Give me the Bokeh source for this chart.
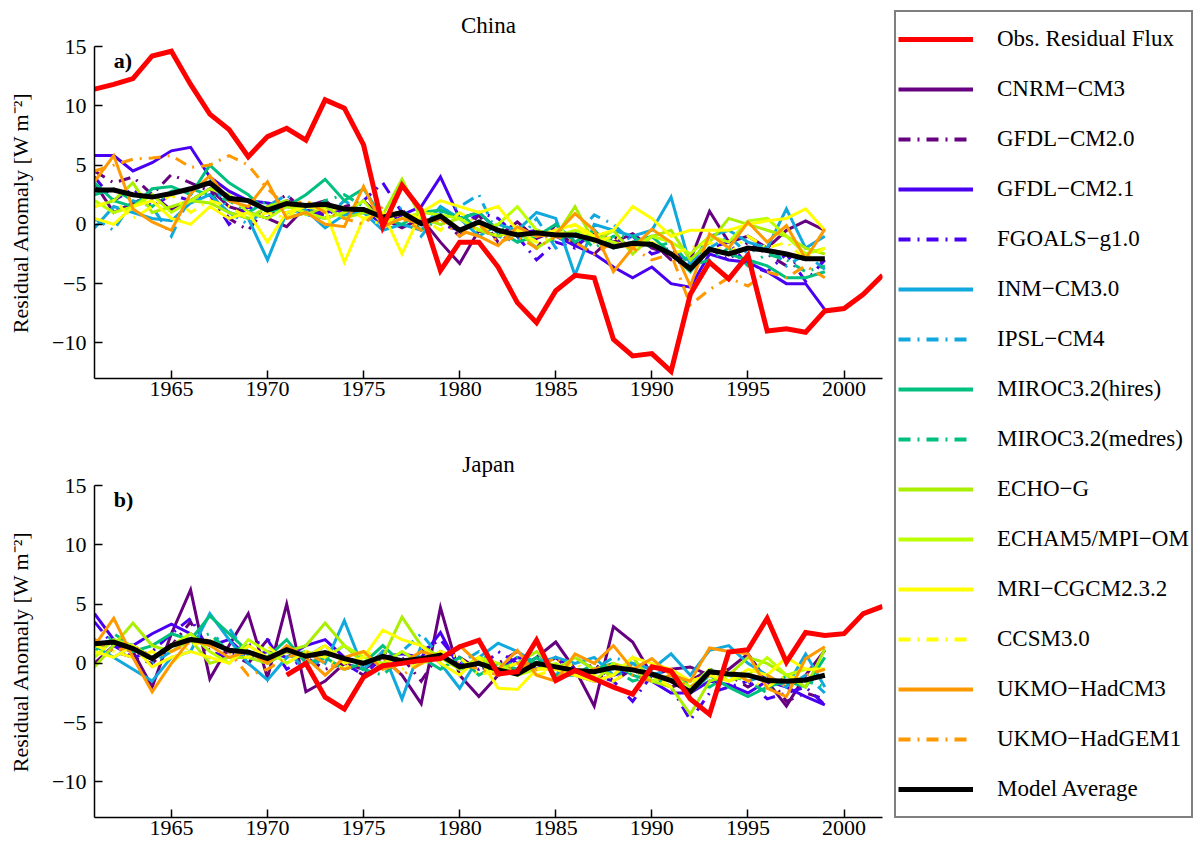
from bokeh.plotting import figure
from bokeh.layouts import row, column
from bokeh.models import FixedTicker, Range1d, Legend, LegendItem, Label
from bokeh.core.properties import value
from bokeh.embed import file_html
from bokeh.resources import INLINE

FONT = "Liberation Serif"

years_model = list(range(1961, 2000))
years_obs_china = list(range(1961, 2003))
years_obs_japan = list(range(1971, 2003))
x_ticks = [1965, 1970, 1975, 1980, 1985, 1990, 1995, 2000]
y_ticks = [-10, -5, 0, 5, 10, 15]

# ---------------- China ----------------
obs_china = [11.4, 11.8, 12.3, 14.2, 14.6, 11.8, 9.3, 8.0, 5.7, 7.4,
             8.1, 7.1, 10.5, 9.8, 6.7, -0.2, 3.3, 1.2, -3.9, -1.5,
             -1.5, -3.6, -6.6, -8.3, -5.6, -4.3, -4.5, -9.7, -11.1, -10.9,
             -12.4, -5.9, -3.2, -4.6, -2.6, -9.0, -8.8, -9.1, -7.3, -7.1,
             -5.9, -4.3]
avg_china = [2.9, 2.9, 2.5, 2.3, 2.6, 3.0, 3.5, 2.2, 2.0, 1.2,
             1.75, 1.6, 1.7, 1.3, 1.25, 0.6, 1.0, 0.05, 0.7, -0.5,
             0.2, -0.5, -0.9, -0.7, -0.9, -0.9, -1.3, -1.9, -1.6, -1.7,
             -2.5, -3.75, -2.1, -2.5, -2.0, -2.2, -2.5, -2.9, -2.9]
cnrm_china = [3.5, 1.0, 1.8, 2.5, 1.2, 2.0, 3.0, 1.5, 1.0, 0.5,
              -0.2, 1.5, 2.0, 0.8, 1.2, 0.5, -0.3, 0.5, -1.5, -3.3,
              -0.5, -1.0, 0.2, -1.2, -0.5, -1.8, -0.8, -1.5, -0.8, -2.0,
              -2.5, -3.0, 1.1, -1.5, -1.0, -2.0, -0.5, 0.3, -0.5]
gfdl20_china = [4.5, 3.5, 4.0, 2.5, 4.2, 3.5, 2.8, 0.5, -0.5, 1.5,
                2.5, 1.0, 0.8, 1.5, 2.0, 0.5, 1.2, -0.2, 0.5, -1.0,
                0.8, -1.5, -0.5, -2.0, 0.0, -1.5, -2.5, -1.0, -2.0, -1.5,
                -3.0, -3.5, -2.0, -3.0, -1.5, -2.5, -3.5, -2.8, -3.2]
gfdl21_china = [5.8, 5.8, 4.5, 5.2, 6.2, 6.5, 4.0, 2.8, 2.0, 1.8,
                1.5, 1.2, 1.0, 1.3, 1.2, 0.0, 0.8, 1.5, 4.0, 0.5,
                1.0, -0.5, -0.8, -0.5, -1.0, -1.8, -2.5, -3.6, -4.5, -3.6,
                -5.0, -5.3, -2.5, -3.0, -3.2, -4.0, -5.0, -5.0, -7.2]
fgoals_china = [4.0, 2.0, 3.0, 1.5, 2.5, 2.0, 2.5, 0.0, 1.5, 0.5,
                2.0, 1.5, 0.5, 1.0, 2.0, 3.5, 1.0, 0.5, 0.0, -0.5,
                1.0, 0.5, -1.0, -3.0, -1.5, -2.0, -0.5, -1.5, -1.0, -2.5,
                -2.0, -3.5, -2.0, -1.5, -3.5, -4.0, -2.5, -4.8, -3.0]
inm_china = [-0.3, 1.5, 1.0, 0.5, 0.3, 1.8, 2.5, 1.0, 0.5, -3.0,
             1.0, 1.2, -0.3, 0.8, 1.0, -0.5, 0.0, -0.5, 1.5, 0.5,
             -1.0, 0.0, -0.5, 1.0, 0.5, -4.3, 0.0, -0.5, -1.0, -0.5,
             2.3, -3.5, -1.0, -0.5, -1.5, -2.0, 1.3, -2.0, -1.0]
ipsl_china = [0.5, -0.5, 2.0, 1.5, -1.0, 2.5, 4.0, 1.0, 0.0, 1.5,
              2.5, 0.8, 0.5, 2.0, 1.0, 0.0, 1.5, -1.0, 1.0, 1.5,
              2.5, -1.0, -1.5, 0.5, -2.0, -1.0, 0.8, 0.0, -1.5, -1.0,
              -2.5, -3.0, -2.0, -1.0, -2.5, -1.5, -3.5, -2.5, -3.8]
mirochi_china = [3.5, 2.0, 1.5, 3.0, 3.2, 2.5, 5.0, 3.5, 2.5, 1.0,
                 1.5, 2.5, 3.8, 2.0, 3.0, 0.5, 0.0, 1.0, 1.2, 0.5,
                 1.0, -0.5, -1.5, -1.0, 0.0, -1.5, -0.5, -2.0, -1.5, -1.0,
                 -2.5, -4.0, -2.0, -2.5, -3.0, -3.5, -4.5, -4.5, -4.0]
mirocmed_china = [2.5, 3.0, 2.0, 1.5, 2.8, 3.0, 2.5, 2.0, 1.0, 2.0,
                  0.5, 1.0, 2.0, 2.5, 1.5, 0.5, 1.0, -0.5, 0.5, 1.0,
                  -0.5, 0.0, -1.0, -0.5, -1.5, -0.5, -2.0, -1.0, -1.0, -2.0,
                  -1.5, -3.5, -3.0, -2.0, -3.5, -2.5, -3.0, -4.0, -3.5]
echog_china = [1.5, 2.0, 3.5, 1.0, 1.5, 2.0, 1.8, 1.0, 0.5, 1.5,
               2.0, 0.8, 1.5, 0.5, 1.0, 0.8, 3.8, 0.5, 0.0, 0.5,
               -0.5, -1.0, -0.5, -2.0, -1.0, 1.5, -1.5, -0.5, -2.5, -1.0,
               -0.5, -3.0, -1.5, 0.5, 0.0, -0.5, -1.0, -2.0, -2.5]
echam5_china = [2.0, 1.0, 1.5, 2.5, 1.0, 2.0, 3.0, 2.5, 1.0, 0.5,
                1.5, 1.0, 0.5, 1.0, 2.0, 0.0, 0.5, 1.0, 0.8, 0.5,
                -0.5, 0.0, 1.5, -0.5, -1.0, -0.5, -1.0, -1.5, -2.0, -1.0,
                -1.5, -2.5, -1.0, -1.5, 0.3, 0.5, -1.0, -2.5, -2.0]
mri_china = [0.5, 0.0, 1.5, 2.0, 0.5, 0.0, 1.5, 0.5, 1.0, -1.5,
             1.0, 1.5, 1.2, -3.2, 0.5, 1.0, -2.5, 1.0, 2.0, 1.5,
             1.0, 1.5, -0.5, -1.0, -0.5, 0.0, -1.0, -0.5, 1.5, 0.5,
             -1.0, -0.5, -0.5, -0.5, 0.0, 0.3, 0.5, 1.3, -0.5]
ccsm_china = [1.5, 2.0, 0.5, 1.5, 2.5, 1.0, 2.0, 1.5, 0.5, 1.0,
              0.5, 2.0, 1.0, 1.5, 0.5, 0.0, 1.0, 0.5, -0.5, 1.0,
              0.0, -1.0, -0.5, -1.5, -1.0, 0.0, -1.5, -1.0, -2.0, -1.5,
              -2.5, -2.0, -1.5, -2.5, -1.0, -2.0, -1.5, -3.0, -2.0]
hadcm3_china = [3.6, 5.8, 1.3, 0.2, -0.5, 2.6, 4.1, 2.0, 1.5, 3.6,
                0.5, 1.0, 0.0, -0.2, 3.2, -0.2, 0.5, 0.0, 0.5, -0.5,
                -1.0, -1.8, -0.2, -1.0, -0.8, 0.9, -0.5, -4.0, -2.0, -0.4,
                -1.5, -5.2, -0.8, -2.0, 0.2, -1.5, -0.1, -2.9, -0.4]
hadgem1_china = [4.5, 5.0, 5.5, 5.6, 5.8, 4.8, 5.0, 5.8, 5.0, 3.0,
                 1.5, 2.0, 1.0, 0.5, 0.0, 1.5, 0.5, -0.5, 0.5, -1.0,
                 0.0, -1.5, -1.0, -2.0, -1.0, -1.5, -2.5, -1.5, -2.0, -3.0,
                 -2.5, -6.8, -5.5, -4.5, -5.2, -4.0, -4.5, -3.5, -4.5]

# ---------------- Japan ----------------
obs_japan = [-1.0, 0.0, -2.85, -3.85, -1.15, -0.2, 0.0, 0.25, 0.4, 1.4,
             1.95, -0.9, -0.7, 1.95, -1.45, -0.6, -1.3, -2.0, -2.6, -0.3,
             -0.65, -3.0, -4.3, 0.95, 1.15, 3.8, 0.1, 2.6, 2.35, 2.5,
             4.2, 4.8]
avg_japan = [1.65, 1.8, 1.25, 0.4, 1.5, 2.0, 1.8, 1.1, 0.95, 0.4,
             1.15, 0.6, 0.9, 0.4, 0.0, 0.6, 0.2, 0.4, 0.7, -0.3,
             0.0, -0.55, -0.9, 0.0, -0.3, -0.6, -0.7, -0.35, -0.55, -0.9,
             -1.45, -2.4, -0.7, -0.9, -1.0, -1.45, -1.5, -1.4, -1.0]
cnrm_japan = [0.0, 1.5, 1.0, -2.0, 2.5, 6.2, -1.3, 1.5, 4.2, -1.2,
              5.0, -2.4, -1.5, 0.0, -0.5, 0.5, -1.0, -3.4, 4.7, -1.0,
              -2.8, -1.0, -0.5, 0.5, 1.8, -0.5, -3.6, 3.1, 1.8, -1.0,
              -0.5, -0.3, -1.0, -0.5, 0.8, -1.5, -3.6, -1.0, 1.1]
gfdl20_japan = [2.0, 1.0, 0.5, 0.0, 1.5, 3.5, 0.5, 1.0, 0.0, 2.0,
                1.0, 0.5, -0.5, 0.0, -1.0, 1.0, 0.5, -1.5, 1.0, 0.5,
                -0.5, 0.0, 1.0, -0.5, 0.5, -1.0, 0.0, -1.5, -0.5, -1.0,
                -2.0, -1.5, -0.5, -1.0, -2.0, -1.0, -3.2, -2.5, -3.0]
gfdl21_japan = [4.2, 2.0, 1.5, 2.5, 3.3, 2.5, 1.5, 2.0, 0.5, 1.0,
                0.5, 1.5, 2.0, 0.5, 0.0, 0.5, 0.8, 0.5, 2.6, -0.5,
                0.0, -0.5, 0.5, 0.0, -0.5, -1.0, -1.5, -1.0, -0.5, -1.5,
                -2.5, -2.5, -1.5, -1.8, -2.5, -1.5, -2.0, -2.8, -3.5]
fgoals_japan = [3.5, 1.5, 0.5, 1.0, 2.5, 3.8, 1.0, 0.5, 1.5, 2.0,
                -0.5, 0.5, 1.5, 0.0, -1.0, 0.5, 0.0, 1.0, 2.0, 0.0,
                -0.5, 1.0, 0.0, -0.5, 0.5, -0.5, -1.0, -1.5, -3.2, -1.0,
                -2.0, -4.8, -2.5, -2.0, -1.5, -3.0, -2.5, -2.0, -3.5]
inm_japan = [1.5, 0.5, -0.5, -1.5, 0.5, 1.0, 4.2, 2.0, 0.0, -1.4,
             0.5, 1.0, 0.0, 3.6, -0.5, 1.0, -3.0, 1.5, 0.0, -2.1,
             0.5, 1.7, 1.0, 0.0, 0.5, 0.0, 0.5, -1.0, 0.0, -0.5,
             0.8, -1.0, 1.1, 1.5, 0.0, -1.0, -2.0, 0.8, -2.0]
ipsl_japan = [2.0, 0.5, 1.5, 0.0, 1.0, 2.0, 1.5, 3.0, 0.5, 0.0,
              1.0, -0.5, 0.5, 1.5, 0.0, -0.5, 1.0, 2.5, 0.5, 0.0,
              1.0, -0.5, 0.0, 1.0, -1.0, 0.5, -0.5, 0.5, 0.0, -1.0,
              -0.5, -2.0, -0.5, -1.0, -1.5, -1.0, -2.0, -1.0, -2.5]
mirochi_japan = [1.5, 2.0, 1.0, 1.5, 2.5, 2.0, 4.0, 2.5, 1.0, 0.5,
                 2.0, 0.0, 0.5, -0.5, 0.0, 1.5, 0.0, 0.5, -0.5, 0.5,
                 -1.0, 0.0, -0.5, 0.5, -1.0, -1.0, -0.5, 0.0, -1.0, -1.5,
                 -1.0, -2.5, -1.0, -2.0, -2.8, -2.0, -1.5, -2.0, 0.5]
mirocmed_japan = [1.0, 2.5, 1.5, 0.5, 1.5, 2.0, 2.5, 1.0, 1.5, 0.5,
                  1.0, 0.5, 1.5, 0.0, -0.5, -1.0, 0.5, 0.0, 1.0, -0.5,
                  0.0, -1.0, 0.5, 0.0, -0.5, -1.0, 0.0, -0.5, -1.5, -1.0,
                  -2.0, -1.5, -2.0, -1.0, -1.5, -2.5, -1.0, -1.5, -2.0]
echog_japan = [-0.3, 1.5, 3.4, 1.5, 1.0, 2.0, 0.0, 0.5, 0.5, 0.0,
               1.0, 1.5, 3.4, 1.5, 0.0, 0.5, 3.9, 1.5, 0.5, -0.5,
               0.5, -0.5, 0.0, 1.0, -0.5, 0.5, -0.5, -1.0, 0.5, -1.5,
               -2.0, -4.3, -1.5, -1.0, 0.5, 0.0, -1.0, -2.0, 1.2]
echam5_japan = [0.5, 2.0, 1.5, 0.5, 1.5, 2.5, 1.0, 0.0, 2.0, 1.0,
                0.0, 1.0, 0.5, 1.5, 0.5, 0.0, 1.0, 0.0, 0.5, -0.5,
                0.5, 0.0, -1.0, -0.5, 0.0, -1.0, -1.5, 0.0, -0.5, -1.5,
                -1.0, -2.0, -0.5, -1.5, -1.0, 0.5, -1.0, -0.5, -0.5]
mri_japan = [1.0, 0.5, 1.5, -0.3, 0.5, 1.0, 0.5, 0.0, 1.5, 0.5,
             1.0, 0.5, 1.5, 0.0, 0.5, 2.8, 2.0, 1.5, 0.0, -1.0,
             0.5, -2.1, -2.2, -0.5, -0.5, -1.0, -1.5, -1.0, 0.5, 0.0,
             -0.5, -1.5, -1.0, -1.5, -0.5, -1.0, 0.5, -0.5, -0.5]
ccsm_japan = [1.5, 1.0, 0.5, 1.0, 0.0, 1.5, 2.0, 1.0, 0.5, 1.5,
              0.0, 1.0, 0.5, -0.5, 1.0, 0.5, -0.5, 0.0, 1.0, 0.5,
              -1.0, -0.5, 0.0, -1.0, -0.5, 0.0, -1.0, -1.5, -0.5, -1.0,
              -2.0, -1.5, -1.0, -0.5, -1.5, -2.0, -1.0, -1.5, -1.0]
hadcm3_japan = [1.5, 3.8, 0.5, -2.4, 0.0, 2.0, 1.5, 0.5, 1.0, 0.0,
                1.5, 0.5, -1.0, 0.5, 1.0, -0.5, 0.0, 1.0, 0.5, 1.5,
                0.0, -0.5, 1.1, -1.0, -1.5, 0.8, 0.0, 1.5, -0.5, 0.4,
                -1.0, -1.5, 1.3, 1.0, 0.8, -2.1, -2.8, 0.4, 1.4]
hadgem1_japan = [2.0, 1.0, 1.5, 0.5, 1.0, 1.8, 2.0, 1.0, -1.0, -0.5,
                 0.5, 1.0, 0.0, -0.5, 0.0, 0.5, -1.0, 0.0, 0.5, 0.0,
                 -0.5, -1.0, 0.0, -0.5, 0.5, -1.0, -0.5, 0.0, -1.0, -1.5,
                 -1.0, -2.0, -1.0, -0.5, -1.5, -1.0, -2.0, -1.0, -0.5]

model_names = ["CNRM\u2212CM3", "GFDL\u2212CM2.0", "GFDL\u2212CM2.1", "FGOALS\u2212g1.0",
               "INM\u2212CM3.0", "IPSL\u2212CM4", "MIROC3.2(hires)", "MIROC3.2(medres)",
               "ECHO\u2212G", "ECHAM5/MPI\u2212OM", "MRI\u2212CGCM2.3.2", "CCSM3.0",
               "UKMO\u2212HadCM3", "UKMO\u2212HadGEM1"]
model_colors = ["#660080", "#660080", "#4a00f0", "#4a00f0",
                "#10a8dd", "#10a8dd", "#00c080", "#00c080",
                "#aaee00", "#bbff00", "#ffff00", "#ffff00",
                "#ff9900", "#ff9900"]
DASHDOT = "12 7 2 7"
model_dashes = ["solid", DASHDOT, "solid", DASHDOT,
                "solid", DASHDOT, "solid", DASHDOT,
                "solid", "solid", "solid", DASHDOT,
                "solid", DASHDOT]
china_models = [cnrm_china, gfdl20_china, gfdl21_china, fgoals_china, inm_china,
                ipsl_china, mirochi_china, mirocmed_china, echog_china, echam5_china,
                mri_china, ccsm_china, hadcm3_china, hadgem1_china]
japan_models = [cnrm_japan, gfdl20_japan, gfdl21_japan, fgoals_japan, inm_japan,
                ipsl_japan, mirochi_japan, mirocmed_japan, echog_japan, echam5_japan,
                mri_japan, ccsm_japan, hadcm3_japan, hadgem1_japan]


def make_panel(title, tag, height, b_top, b_bottom, obs_years, obs_vals, avg_vals, models):
    p = figure(width=884, height=height, x_range=Range1d(1961, 2002), y_range=Range1d(-13, 15),
               output_backend="svg", toolbar_location=None, title=title,
               min_border_left=94, min_border_right=2, min_border_top=b_top,
               min_border_bottom=b_bottom)
    p.outline_line_color = None
    p.xgrid.visible = False
    p.ygrid.visible = False
    p.title.align = "center"
    p.title.standoff = 18
    p.title.text_font = FONT
    p.title.text_font_size = "23px"
    p.title.text_font_style = "normal"
    p.title.text_color = "black"
    p.xaxis.ticker = FixedTicker(ticks=x_ticks)
    p.yaxis.ticker = FixedTicker(ticks=y_ticks)
    for ax in (p.xaxis[0], p.yaxis[0]):
        ax.major_tick_in = 8
        ax.major_tick_out = 0
        ax.minor_tick_in = 0
        ax.minor_tick_out = 0
        ax.axis_line_width = 1.5
        ax.axis_line_color = "black"
        ax.major_tick_line_width = 1.5
        ax.major_tick_line_color = "black"
        ax.major_label_text_font = FONT
        ax.major_label_text_font_size = "22px"
        ax.major_label_text_color = "black"
    p.xaxis.major_label_standoff = 3
    p.yaxis.major_label_standoff = 8
    p.yaxis.axis_label = "Residual Anomaly [W m\u207b\u00b2]"
    p.yaxis.axis_label_text_font = FONT
    p.yaxis.axis_label_text_font_size = "22px"
    p.yaxis.axis_label_text_font_style = "normal"
    p.yaxis.axis_label_text_color = "black"
    p.yaxis.axis_label_standoff = 16

    for vals, color, dash in zip(models, model_colors, model_dashes):
        p.line(years_model, vals, line_color=color, line_width=3, line_dash=dash,
               line_join="miter")
    p.line(years_model, avg_vals, line_color="black", line_width=5, line_join="miter")
    p.line(obs_years, obs_vals, line_color="#ff0000", line_width=5, line_join="miter")

    p.add_layout(Label(x=1962.0, y=13.85, text=tag, text_font=FONT, text_font_size="22px",
                       text_font_style="bold", text_baseline="middle", text_color="black"))
    return p


pa = make_panel("China", "a)", 418, 46, 40, years_obs_china, obs_china, avg_china, china_models)
pb = make_panel("Japan", "b)", 434, 67, 35, years_obs_japan, obs_japan, avg_japan, japan_models)

# ---------------- legend ----------------
# The legend panel's view range lies away from the data, so its renderers only
# serve as legend samples.
lf = figure(width=314, height=852, x_range=Range1d(0, 1), y_range=Range1d(0, 1),
            output_backend="svg", toolbar_location=None, x_axis_type=None, y_axis_type=None,
            min_border=0)
lf.outline_line_color = None
lf.grid.visible = False

legend_labels = ["Obs. Residual Flux"] + model_names + ["Model Average"]
legend_colors = ["#ff0000"] + model_colors + ["black"]
legend_dashes = ["solid"] + model_dashes + ["solid"]
legend_widths = [5] + [4] * len(model_names) + [5]
legend_series = [(years_obs_china, obs_china)] + \
    [(years_model, m) for m in china_models] + [(years_model, avg_china)]

items = []
for lab, col, dsh, lw, (xs, ys) in zip(legend_labels, legend_colors, legend_dashes,
                                       legend_widths, legend_series):
    r = lf.line(xs, ys, line_color=col, line_width=lw, line_dash=dsh)
    items.append(LegendItem(label=value(lab), renderers=[r]))

legend = Legend(items=items, location="top_left", margin=10, padding=2, spacing=0,
                glyph_width=75, glyph_height=50, label_height=50, label_standoff=24,
                label_text_font=FONT, label_text_font_size="23px", label_text_color="black",
                label_text_baseline="middle",
                border_line_color="black", border_line_width=2, background_fill_color="white",
                background_fill_alpha=1.0)
lf.add_layout(legend)

layout = row(column(pa, pb), lf)
open("out.html", "w").write(file_html(layout, INLINE))
